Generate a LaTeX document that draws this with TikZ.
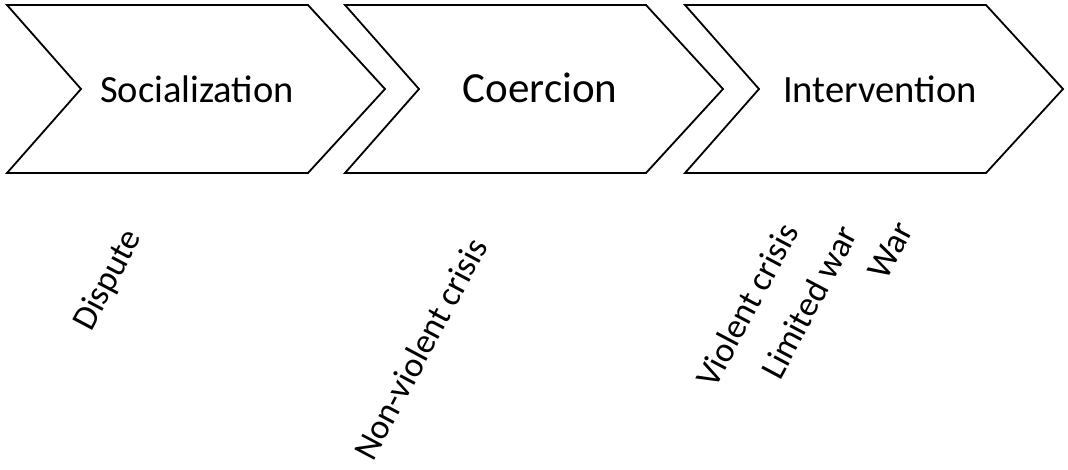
\documentclass[tikz,border=0pt]{standalone}
\usepackage{fontspec}
\setmainfont{Carlito}
\begin{document}
\begin{tikzpicture}[x=1pt,y=-1pt,
  chevron/.style={draw=black,line width=1.8pt,line join=miter,fill=white},
  stage/.style={anchor=base,inner sep=0pt},
  level/.style={anchor=base west,inner sep=0pt,rotate=62,font=\fontsize{35}{35}\selectfont}]
  % page frame
  \fill[white] (0,0) rectangle (1068,469);
  \useasboundingbox (0,0) rectangle (1068,469);
  % three chevron arrows
  \foreach \l in {7,345,685}{
    \draw[chevron] (\l,5) -- ++(301,0) -- ++(77,84) -- ++(-77,84) -- ++(-301,0) -- ++(74,-84) -- cycle;
  }
  % stage titles
  \node[stage,font=\fontsize{38.5}{38.5}\selectfont] (soc) at (197,102) {Socialization};
  \node[stage,font=\fontsize{43}{43}\selectfont] (coe) at (540,102) {Coercion};
  \node[stage,font=\fontsize{38.6}{38.6}\selectfont] (int) at (880,102) {Intervention};
  % conflict levels
  \node[level] (dis) at (91,333) {Dispute};
  \node[level] (nvc) at (373,463) {Non-violent crisis};
  \node[level] (vic) at (715,390) {Violent crisis};
  \node[level] (lim) at (780,382) {Limited war};
  \node[level] (war) at (886,282) {War};
\end{tikzpicture}
\end{document}
